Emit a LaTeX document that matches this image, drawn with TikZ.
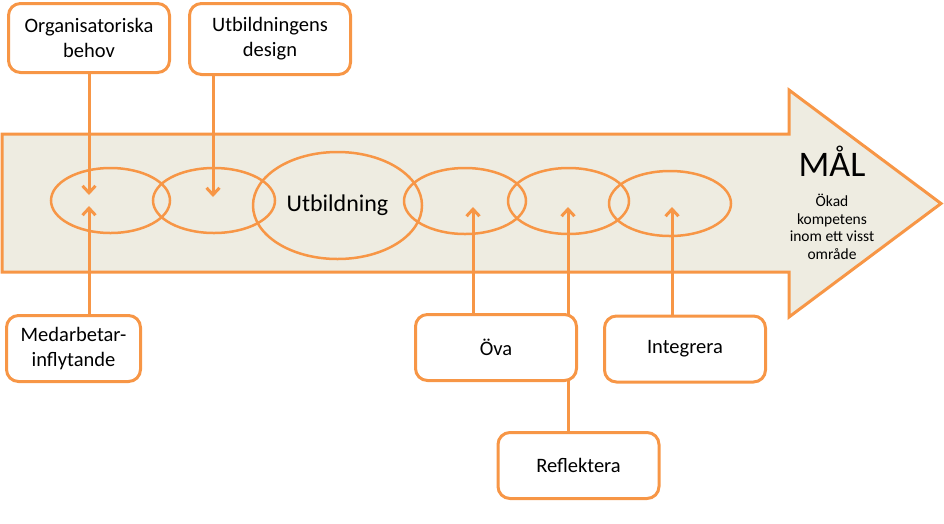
\documentclass[tikz,border=0pt]{standalone}
\usepackage{fontspec}
\setmainfont{Carlito}
\usetikzlibrary{shapes.geometric,arrows.meta}
\definecolor{orng}{HTML}{F79646}
\definecolor{tan}{HTML}{EEECE1}
\tikzset{
  box/.style={draw=orng, line width=3pt, fill=white, rounded corners=12pt,
    align=center, inner sep=0pt, font=\fontsize{20.5}{25}\selectfont},
  ring/.style={draw=orng, line width=2.5pt, ellipse, inner sep=0pt},
  conn/.style={draw=orng, line width=3pt, -{Straight Barb[length=7pt,width=13pt]}},
}
\begin{document}
\begin{tikzpicture}[x=1pt,y=-1pt]
\useasboundingbox (0,0) rectangle (944,523);
% big arrow
\draw[orng, line width=3pt, fill=tan, line join=miter]
  (2,134) -- (789,134) -- (789,90) -- (941,203.5) -- (789,317) -- (789,272) -- (2,272) -- cycle;
% ellipses
\node[ring, minimum width=119pt, minimum height=65pt] (e1) at (110.5,200.5) {};
\node[ring, minimum width=122pt, minimum height=65pt] (e2) at (214,200.5) {};
\node[ring, minimum width=169pt, minimum height=107pt, font=\fontsize{24}{28}\selectfont] (e3) at (337.5,205.5) {Utbildning};
\node[ring, minimum width=122pt, minimum height=66pt] (e4) at (465,201) {};
\node[ring, minimum width=121pt, minimum height=66pt] (e5) at (568.5,201) {};
\node[ring, minimum width=122pt, minimum height=65pt] (e6) at (670,203.5) {};
% goal text
\node[inner sep=0pt, anchor=base, font=\fontsize{36}{40}\selectfont] (mal) at (832,176) {MÅL};
\node[align=center, inner sep=0pt, font=\fontsize{15.5}{17.5}\selectfont, anchor=north] (malt) at (832,194) {Ökad\\kompetens\\inom ett visst\\område};
% target coordinates
\coordinate (t1) at (89,195);
\coordinate (t1b) at (89,206);
\coordinate (t2) at (213,197);
\coordinate (t4) at (473,207);
\coordinate (t5) at (568,207);
\coordinate (t6) at (672,207);
% boxes
\node[box, minimum width=161pt, minimum height=69pt] (org) at (89,38) {Organisatoriska\\behov};
\node[box, minimum width=161pt, minimum height=71pt] (des) at (270,39) {Utbildningens\\design};
\node[box, minimum width=134pt, minimum height=66pt] (med) at (73.5,348.5) {Medarbetar-\\inflytande};
\node[box, minimum width=161pt, minimum height=66pt] (ref) at (578.5,465.5) {Reflektera};
\draw[conn] (ref.north -| t5) -- (t5);
\draw[conn] (org.south -| t1) -- (t1);
\draw[conn] (des.south -| t2) -- (t2);
\draw[conn] (med.north -| t1b) -- (t1b);
\node[box, minimum width=161pt, minimum height=66pt] (ova) at (496,347.5) {Öva};
\node[box, minimum width=161pt, minimum height=66pt] (int) at (685,349) {Integrera};
\draw[conn] (ova.north -| t4) -- (t4);
\draw[conn] (int.north -| t6) -- (t6);
\end{tikzpicture}
\end{document}
